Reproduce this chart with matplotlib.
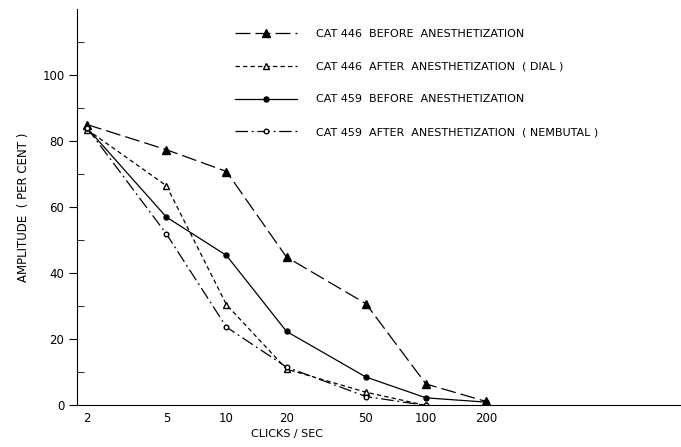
import numpy as np
import matplotlib
matplotlib.use("Agg")
import matplotlib.pyplot as plt
from matplotlib.ticker import FixedLocator, NullFormatter

# clicks per second
clicks = [2, 5, 10, 20, 50, 100, 200]
tick_labels = ["2", "5", "10", "20", "50", "100", "200"]

# amplitude (per cent)
cat446_before = [85, 77.4, 70.8, 44.9, 30.8, 6.5, 1.2]
cat446_after = [83.5, 66.5, 30.5, 11, 4, 0]
cat459_before = [84, 57, 45.4, 22.4, 8.6, 2.3, 1]
cat459_after = [84, 51.9, 23.7, 11.6, 2.7, 0]

labels = ["CAT 446  BEFORE  ANESTHETIZATION",
          "CAT 446  AFTER  ANESTHETIZATION  ( DIAL )",
          "CAT 459  BEFORE  ANESTHETIZATION",
          "CAT 459  AFTER  ANESTHETIZATION  ( NEMBUTAL )"]

plt.rcParams['font.family'] = ['DejaVu Sans']
fig = plt.figure(figsize=(6.81, 4.47), dpi=100)
ax = fig.add_axes([0.113, 0.093, 0.887, 0.887])

ax.plot(clicks, cat446_before, color='black', lw=0.9, dashes=(12, 4),
        marker='^', ms=5.5, mfc='black', label=labels[0])
ax.plot(clicks[:6], cat446_after, color='black', lw=0.9, dashes=(3.5, 2.5),
        marker='^', ms=5, mfc='white', label=labels[1])
ax.plot(clicks, cat459_before, color='black', lw=0.9, ls='-',
        marker='o', ms=3.6, mfc='black', label=labels[2])
ax.plot(clicks[:6], cat459_after, color='black', lw=0.9, dashes=(10, 3, 1.5, 3),
        marker='o', ms=3.3, mfc='white', label=labels[3])

ax.set_xscale('log')
ax.set_xlim(1.78, 1900)
ax.set_ylim(0, 120)

ax.xaxis.set_major_locator(FixedLocator(clicks))
ax.xaxis.set_minor_locator(FixedLocator([]))
ax.set_xticklabels(tick_labels)
ax.tick_params(axis='x', length=0, pad=5, labelsize=8.5)

ax.set_yticks([0, 20, 40, 60, 80, 100])
ax.yaxis.set_minor_locator(FixedLocator([10, 30, 50, 70, 90, 110]))
ax.yaxis.set_minor_formatter(NullFormatter())
ax.tick_params(axis='y', which='major', direction='out', length=6, pad=3, labelsize=8.5)
ax.tick_params(axis='y', which='minor', direction='in', length=5)

for s in ['top', 'right']:
    ax.spines[s].set_visible(False)

ax.set_ylabel("AMPLITUDE  ( PER CENT )", fontsize=8.5, labelpad=9)
ax.text(20, -8.5, "CLICKS / SEC", fontsize=8, ha='center', va='center')

ax.legend(loc='upper left', bbox_to_anchor=(0.245, 0.975), frameon=False,
          numpoints=1, handlelength=5.6, handletextpad=1.7,
          labelspacing=2.05, fontsize=8)

fig.savefig("out.png", dpi=100)
